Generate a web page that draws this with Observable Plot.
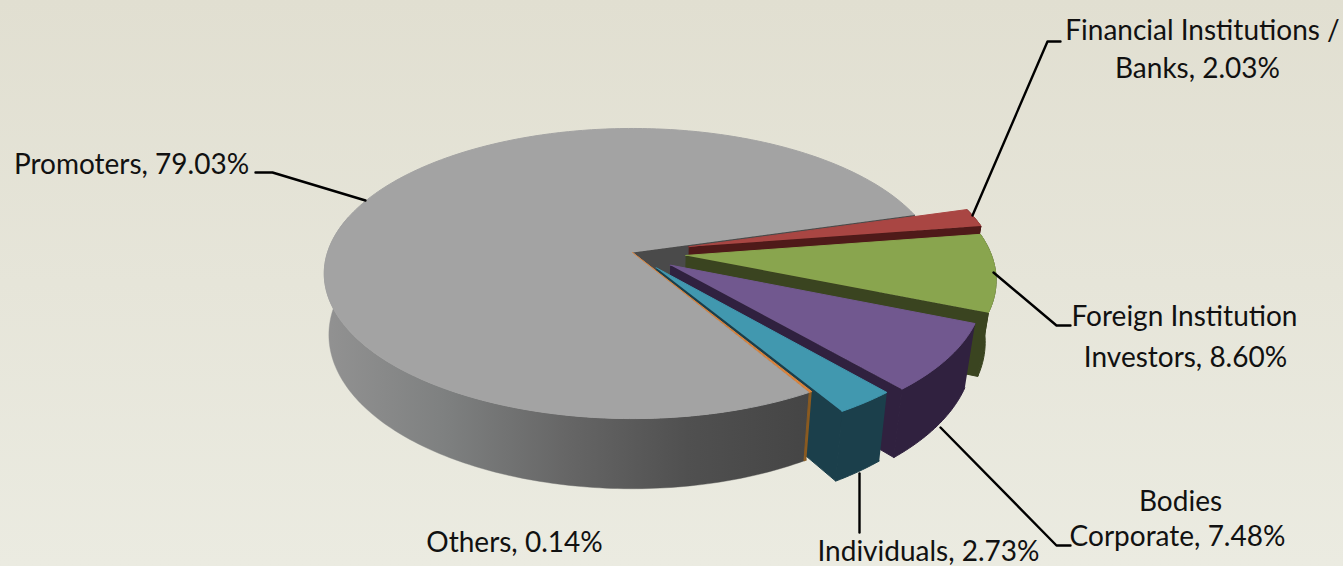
<!DOCTYPE html>
<html>
<head>
<meta charset="utf-8">
<script src="https://cdn.jsdelivr.net/npm/d3@7"></script>
<script src="https://cdn.jsdelivr.net/npm/@observablehq/plot@0.6"></script>
<style>
html,body{margin:0;padding:0;width:1343px;height:566px;overflow:hidden;background:linear-gradient(#e1dfd1,#ebebe1);}
svg{display:block;}
</style>
</head>
<body>
<script>
// Data
const sliceNames = ["Financial Institutions / Banks","Foreign Institution Investors","Bodies Corporate","Individuals","Others","Promoters"];
const sliceShares = [2.03,8.60,7.48,2.73,0.14,79.03];
const topColors  = ["#a94643","#89a54e","#71588f","#4198af","#db843d","#a3a3a3"];
const sideColors = ["#4f1a19","#3a4420","#30213f","#1b3f4b","#8a5a20","url(#greyRim)"];
const cutColors  = ["#4f1a19","#3a4420","#30213f","#1b3f4b","#8a5a20","#4a4a4a"];
const explodeBy  = [0.19,0.175,0.15,0.13,0,0];

const labelLines = ["Financial Institutions /","Banks, 2.03%","Foreign Institution","Investors, 8.60%","Bodies","Corporate, 7.48%","Individuals, 2.73%","Others, 0.14%","Promoters, 79.03%"];
const labelX = [1202,1197,1184,1185,1180,1177,928,514,131];
const labelY = [31,69,317,358,502,537,552,543,165];

const leaderLines = [
  [[1060,41],[1047,41],[972,215]],
  [[1070,325],[1056,325],[993,272]],
  [[1070,545],[1056,545],[940,427]],
  [[859,473],[859,532]],
  [[255,172],[272,172],[365,200]]
];

// Perspective view of the tilted disc
const view = {cx:632, cy:252, a:305, b:142, p:0.145, h:60, narrowRight:0.03, narrowLeft:0.015, startAngle:16};
const rad = d => d*Math.PI/180;
function project(X,Y,down=0){
  const w = 1+view.p*Y, narrow = X<0?view.narrowLeft:view.narrowRight;
  return {x:view.cx+view.a*X/w*(1-narrow*down/view.h), y:view.cy-view.b*Y/w+down/w};
}
// Slice angles follow the shares, clockwise from startAngle
let cursor = view.startAngle;
const slices = sliceShares.map((s,i)=>{
  const t0 = cursor, t1 = cursor - s*3.6; cursor = t1;
  const mid = rad((t0+t1)/2), e = explodeBy[i];
  return {name:sliceNames[i],t0,t1,ox:e*Math.cos(mid),oy:e*Math.sin(mid),top:topColors[i],side:sideColors[i],cut:cutColors[i]};
});
function arc(s,down=0){
  const n = Math.max(2,Math.ceil(Math.abs(s.t1-s.t0)));
  return d3.range(n+1).map(k=>{
    const t = rad(s.t0+(s.t1-s.t0)*k/n);
    return project(s.ox+Math.cos(t),s.oy+Math.sin(t),down);
  });
}
const apex = (s,down=0)=>project(s.ox,s.oy,down);
const topFace = s=>[apex(s),...arc(s)];
const rimFace = s=>[...arc(s),...arc(s,view.h).reverse()];
function cutFace(s){
  const A = arc(s), rimPt = A[A.length-1], rimLow = arc(s,view.h).pop();
  return [apex(s),rimPt,rimLow,apex(s,view.h)];
}
const face = (pts,fill)=>Plot.line(pts,{x:"x",y:"y",fill,stroke:fill,strokeWidth:fill.startsWith("url")?0.4:1,curve:"linear"});

const grey = slices[5], others = slices[4], moved = slices.slice(0,4);
const marks = [
  () => {
    const defs = d3.create("svg:defs");
    const g = defs.append("linearGradient").attr("id","greyRim").attr("gradientUnits","userSpaceOnUse")
      .attr("x1",324).attr("x2",808).attr("y1",0).attr("y2",0);
    [[0,"#929292"],[0.25,"#7e8080"],[0.5,"#666666"],[0.75,"#505050"],[1,"#454545"]]
      .forEach(([o,c])=>g.append("stop").attr("offset",o).attr("stop-color",c));
    return defs.node();
  },
  face(cutFace(grey),grey.cut)
];
for (const s of moved){
  marks.push(face(rimFace(s),s.side));
  marks.push(face(cutFace(s),s.cut));
  marks.push(face(topFace(s),s.top));
}
// Only the front of the grey rim faces the viewer
marks.push(face(rimFace({...grey,t1:-195}),grey.side));
marks.push(face(topFace(grey),grey.top));
marks.push(face(rimFace(others),others.side));
marks.push(face(topFace(others),others.top));
leaderLines.forEach(l=>marks.push(Plot.line(l,{x:d=>d[0],y:d=>d[1],stroke:"#000",strokeWidth:2.4,curve:"linear"})));
marks.push(Plot.text(labelLines,{
  x:(d,i)=>labelX[i],y:(d,i)=>labelY[i],text:d=>d,
  fontFamily:"Lato",fontSize:28,fill:"#111",textAnchor:"middle",lineAnchor:"middle"
}));

const chart = Plot.plot({
  width:1343,height:566,margin:0,
  x:{domain:[0,1343],range:[0,1343],axis:null},
  y:{domain:[0,566],range:[0,566],axis:null},
  style:{background:"transparent"},
  marks
});
document.body.appendChild(chart);
</script>
</body>
</html>
